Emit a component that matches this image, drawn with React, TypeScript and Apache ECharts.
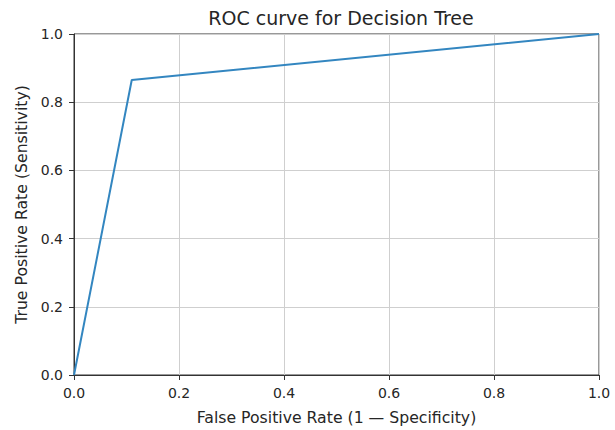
import React, { useEffect, useRef } from "react";
import * as echarts from "echarts";

const fpr = [0, 0.11, 1];
const tpr = [0, 0.865, 1];
const titleText = "ROC curve for Decision Tree";
const xTitle = "False Positive Rate (1 \u2014 Specificity)";
const yTitle = "True Positive Rate (Sensitivity)";

export default function App() {
  const ref = useRef<HTMLDivElement>(null);
  useEffect(() => {
    document.body.style.margin = "0";
    const chart = echarts.init(ref.current!, null, { renderer: "svg" });
    const font = "DejaVu Sans";
    const axisCommon = {
      type: "value" as const,
      min: 0,
      max: 1,
      interval: 0.2,
      axisLine: { show: true, onZero: false, lineStyle: { color: "#333", width: 1 } },
      axisTick: { show: true, inside: false, length: 5, lineStyle: { color: "#333" } },
      axisLabel: {
        color: "#262626",
        fontFamily: font,
        fontSize: 14,
        margin: 11,
        formatter: (v: number) => v.toFixed(1),
      },
      splitLine: { show: true, lineStyle: { color: "#cfcfcf", width: 1 } },
      nameLocation: "middle" as const,
      nameTextStyle: { color: "#262626", fontFamily: font, fontSize: 15.7 },
    };
    chart.setOption({
      animation: false,
      backgroundColor: "#fff",
      title: {
        text: titleText,
        left: 336,
        textAlign: "center",
        top: 3,
        textStyle: { color: "#262626", fontFamily: font, fontSize: 19, fontWeight: "normal" },
      },
      grid: {
        left: 74,
        right: 16,
        top: 34,
        bottom: 54,
        show: true,
        borderColor: "#333",
        borderWidth: 1,
        backgroundColor: "transparent",
      },
      xAxis: { ...axisCommon, name: xTitle, nameGap: 34 },
      yAxis: { ...axisCommon, name: yTitle, nameGap: 45 },
      series: [
        {
          type: "line",
          data: fpr.map((x, i) => [x, tpr[i]]),
          symbol: "none",
          lineStyle: { color: "#3386c0", width: 2 },
        },
      ],
    });
    return () => chart.dispose();
  }, []);
  return <div ref={ref} style={{ width: 615, height: 430 }} />;
}
